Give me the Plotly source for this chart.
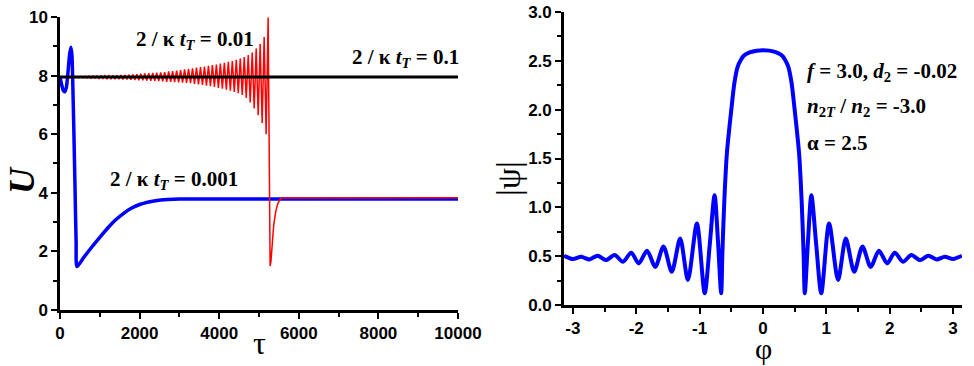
####################################################################################################################
# plot.py
#
# two panel figure: U(tau) for three 2/kappa t_T values and |psi|(phi) profile

import plotly.graph_objects as go
from plotly.subplots import make_subplots

####################################################################################################################
# DATA

# left panel, 2/k t_T = 0.1 (flat)
black_tau = [0, 10000]
black_u = [7.95, 7.95]

# left panel, 2/k t_T = 0.001
blue_tau = [0, 40, 80, 120, 160, 200, 240, 275, 300, 320, 350, 380, 405, 425,
            600, 800, 1000, 1200, 1400, 1600, 1800, 2000, 2200, 2400, 2700, 3000, 10000]
blue_u = [7.96, 7.7, 7.5, 7.45, 7.6, 8.1, 8.7, 8.97, 8.7, 7.8, 6.0, 4.0, 2.3, 1.48,
          1.8, 2.15, 2.48, 2.8, 3.08, 3.3, 3.48, 3.6, 3.68, 3.73, 3.77, 3.79, 3.79]

# left panel, 2/k t_T = 0.01 (growing oscillation, collapse, then steady)
red_tau = [0, 300,
           330, 380, 430, 480, 530, 580, 630, 680, 730, 780,
           830, 880, 930, 980, 1030, 1080, 1130, 1180, 1230, 1280,
           1330, 1380, 1430, 1480, 1530, 1580, 1630, 1680, 1730, 1780,
           1830, 1880, 1930, 1980, 2030, 2080, 2130, 2180, 2230, 2280,
           2330, 2380, 2430, 2480, 2530, 2580, 2630, 2680, 2730, 2780,
           2830, 2880, 2930, 2980, 3030, 3080, 3130, 3180, 3230, 3280,
           3330, 3380, 3430, 3480, 3530, 3580, 3630, 3680, 3730, 3780,
           3830, 3880, 3930, 3980, 4030, 4080, 4130, 4180, 4230, 4280,
           4330, 4380, 4430, 4480, 4530, 4580, 4630, 4680, 4730, 4780,
           4830, 4880, 4930, 4980, 5030, 5080, 5130, 5180, 5230,
           5280, 5300, 5330, 5370, 5420, 5470, 5520, 5580, 10000]
red_u = [7.95, 7.93,
         7.96, 7.93, 7.96, 7.93, 7.97, 7.92, 7.97, 7.92, 7.98, 7.91,
         7.98, 7.91, 7.99, 7.90, 7.99, 7.90, 8.00, 7.89, 8.00, 7.89,
         8.01, 7.88, 8.01, 7.88, 8.02, 7.87, 8.02, 7.87, 8.03, 7.86,
         8.04, 7.85, 8.05, 7.84, 8.06, 7.84, 8.07, 7.83, 8.08, 7.82,
         8.09, 7.82, 8.10, 7.81, 8.11, 7.80, 8.12, 7.79, 8.14, 7.79,
         8.15, 7.78, 8.17, 7.77, 8.19, 7.76, 8.21, 7.75, 8.23, 7.74,
         8.25, 7.72, 8.27, 7.70, 8.29, 7.68, 8.31, 7.66, 8.33, 7.64,
         8.36, 7.61, 8.38, 7.58, 8.41, 7.55, 8.44, 7.52, 8.47, 7.48,
         8.50, 7.44, 8.54, 7.40, 8.58, 7.34, 8.63, 7.24, 8.70, 7.08,
         8.79, 6.88, 8.92, 6.65, 9.08, 6.38, 9.32, 6.00, 9.98,
         1.50, 1.65, 2.30, 2.90, 3.35, 3.62, 3.76, 3.82, 3.83]

# right panel |psi| vs phi
phi = [-3.14, -3.0, -2.87, -2.74, -2.61, -2.48, -2.34, -2.21, -2.08, -1.96,
       -1.83, -1.70, -1.57, -1.44, -1.307, -1.185, -1.043, -0.92, -0.84, -0.764,
       -0.71, -0.66, -0.64, -0.61, -0.57, -0.5, -0.45, -0.4, -0.35, -0.3,
       -0.2, -0.1, 0.0, 0.1, 0.2, 0.3, 0.35, 0.4, 0.45, 0.5,
       0.57, 0.61, 0.64, 0.66, 0.71, 0.764, 0.84, 0.92, 1.043, 1.185,
       1.307, 1.44, 1.57, 1.70, 1.83, 1.96, 2.08, 2.21, 2.34, 2.48,
       2.61, 2.74, 2.87, 3.0, 3.14]
psi = [0.505, 0.47, 0.494, 0.467, 0.505, 0.46, 0.511, 0.443, 0.535, 0.426,
       0.556, 0.39, 0.60, 0.34, 0.68, 0.256, 0.835, 0.12, 0.62, 1.125,
       0.65, 0.12, 0.55, 1.07, 1.55, 2.0, 2.28, 2.44, 2.51, 2.555,
       2.59, 2.605, 2.61, 2.605, 2.59, 2.555, 2.51, 2.44, 2.28, 2.0,
       1.55, 1.07, 0.55, 0.12, 0.65, 1.125, 0.62, 0.12, 0.835, 0.256,
       0.68, 0.34, 0.60, 0.39, 0.556, 0.426, 0.535, 0.443, 0.511, 0.46,
       0.505, 0.467, 0.494, 0.47, 0.505]

# tick labels
left_x_ticks = [0, 2000, 4000, 6000, 8000, 10000]
left_x_text = ['0', '2000', '4000', '6000', '8000', '10000']
left_y_ticks = [0, 2, 4, 6, 8, 10]
right_x_ticks = [-3, -2, -1, 0, 1, 2, 3]
right_x_text = ['-3', '-2', '-1', '0', '1', '2', '3']
right_y_ticks = [0, 0.5, 1.0, 1.5, 2.0, 2.5, 3.0]

####################################################################################################################
# FIGURE

fig = make_subplots(rows=1, cols=2)

fig.add_trace(go.Scatter(x=blue_tau, y=blue_u, mode='lines',
                         line=dict(color='#0000FF', width=3.5, shape='spline', smoothing=0.6)), row=1, col=1)
fig.add_trace(go.Scatter(x=red_tau, y=red_u, mode='lines',
                         line=dict(color='#FF0000', width=1.5)), row=1, col=1)
fig.add_trace(go.Scatter(x=black_tau, y=black_u, mode='lines',
                         line=dict(color='#000000', width=3)), row=1, col=1)
fig.add_trace(go.Scatter(x=phi, y=psi, mode='lines',
                         line=dict(color='#0000FF', width=4, shape='spline', smoothing=0.8)), row=1, col=2)

tickfont = dict(family='Liberation Sans', size=17, color='black', weight='bold')
axis_common = dict(
    showline=True, linewidth=2.5, linecolor='black', showgrid=False, zeroline=False, automargin=False,
    ticks='outside', ticklen=6, tickwidth=2, tickcolor='black', tickfont=tickfont,
)

# left panel axes
fig.update_xaxes(domain=[0.0616, 0.4702], range=[0, 10000], tickvals=left_x_ticks, ticktext=left_x_text,
                 minor=dict(dtick=1000, ticks='outside', ticklen=4, tickwidth=2, tickcolor='black'),
                 **axis_common, row=1, col=1)
fig.update_yaxes(domain=[0.153, 0.9536], range=[0, 10], tickvals=left_y_ticks,
                 minor=dict(dtick=1, ticks='outside', ticklen=4, tickwidth=2, tickcolor='black'),
                 **axis_common, row=1, col=1)

# right panel axes
fig.update_xaxes(domain=[0.579, 0.9877], range=[-3.1416, 3.1416], tickvals=right_x_ticks, ticktext=right_x_text,
                 minor=dict(dtick=0.5, ticks='outside', ticklen=4, tickwidth=2, tickcolor='black'),
                 **axis_common, row=1, col=2)
fig.update_yaxes(domain=[0.1667, 0.967], range=[0, 3], tickvals=right_y_ticks, tickformat='.1f',
                 minor=dict(dtick=0.25, ticks='outside', ticklen=4, tickwidth=2, tickcolor='black'),
                 **axis_common, row=1, col=2)

serif = 'Liberation Serif'
label_font = dict(family=serif, size=21, color='black', weight='bold')

# curve labels (left panel, data coords)
for txt, xx, yy in [
    ('2 / κ <i>t</i><sub><i>T</i></sub> = 0.01', 3390, 9.2),
    ('2 / κ <i>t</i><sub><i>T</i></sub> = 0.1', 8670, 8.6),
    ('2 / κ <i>t</i><sub><i>T</i></sub> = 0.001', 2860, 4.44),
]:
    fig.add_annotation(text=txt, x=xx, y=yy, xref='x', yref='y', showarrow=False, font=label_font)

# parameter block (right panel)
for txt, yy in [
    ('<i>f</i> = 3.0, <i>d</i><sub>2</sub> = -0.02', 72),
    ('<i>n</i><sub>2<i>T</i></sub> / <i>n</i><sub>2</sub> = -3.0', 107),
    ('α = 2.5', 143),
]:
    fig.add_annotation(text=txt, x=805 / 974, y=1 - yy / 366, xref='paper', yref='paper',
                       xanchor='left', yanchor='middle', showarrow=False, font=label_font)

# axis titles as free text (anchored on their centres)
for txt, px, py, ang, fnt in [
    ('<i>U</i>', 22, 180, -90, dict(family=serif, size=36, color='black', weight='bold')),
    ('τ', 259, 343, 0, dict(family=serif, size=32, color='black')),
    ('|ψ|', 508, 178, -90, dict(family=serif, size=34, color='black')),
    ('φ', 763, 348, 0, dict(family=serif, size=30, color='black')),
]:
    fig.add_annotation(text=txt, x=px / 974, y=1 - py / 366, xref='paper', yref='paper',
                       xanchor='center', yanchor='middle', showarrow=False, textangle=ang, font=fnt)

fig.update_layout(
    width=974, height=366,
    margin=dict(l=0, r=0, t=0, b=0),
    paper_bgcolor='white', plot_bgcolor='white',
    showlegend=False,
)

# drop the default page margin so the figure sits at the window's corner
fig.write_html('out.html', config={'displayModeBar': False},
               post_script="document.body.style.margin='0';")
